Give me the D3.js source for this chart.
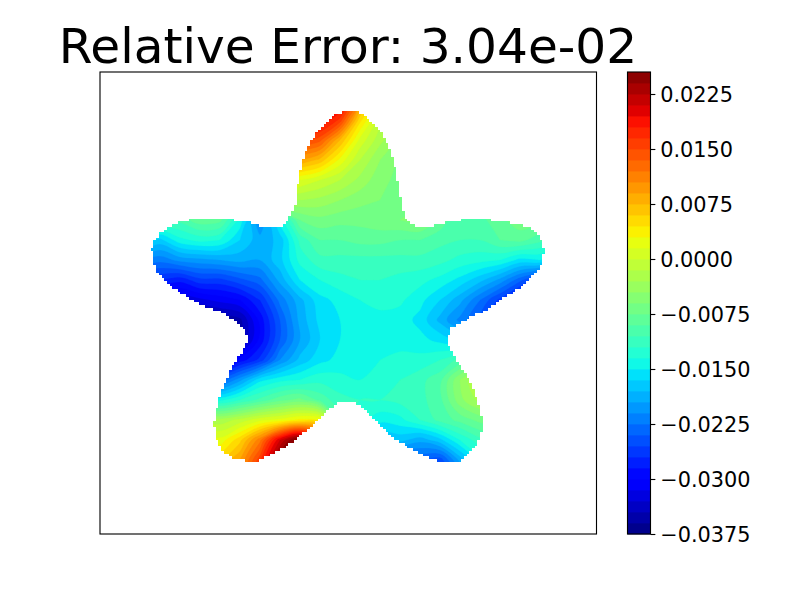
<!DOCTYPE html>
<html>
<head>
<meta charset="utf-8">
<script src="https://cdn.jsdelivr.net/npm/d3@7"></script>
<style>
html,body{margin:0;padding:0;background:#fff}
svg{display:block}
text{font-family:"DejaVu Sans",sans-serif;fill:#000}
</style>
</head>
<body>
<svg id="chart" width="800" height="600"></svg>
<script>
const titleText = "Relative Error: 3.04e-02";
// grid axes of the error field
const gridX = [140,160,180,200,220,240,260,280,300,320,340,360,380,400,420,440,460,480,500,520,540,560];
const gridY = [100,120,140,160,180,200,220,240,260,280,300,320,340,360,380,400,420,440,460,480];
// error field, in units of 1e-3
const field = [
[-5,-5,-5,-5,-5,-5,5,15,18,24,21,10,2,-3,-5,-6,-6,-6,-6,-6,-6,-6],
[-5,-5,-5,-5,-5,-5,5,17,20,20,16,5,-1,-4,-5,-6,-6,-6,-6,-6,-6,-6],
[-6,-6,-6,-6,-6,-6,5,20,16,14,7.5,1,-2.5,-5,-6,-6,-6,-6,-6,-6,-6,-6],
[-7,-7,-7,-7,-7,-7,3,12,9,7,2.5,-1.5,-4.5,-6,-6,-6,-6,-6,-6,-6,-6,-6],
[-8,-8,-8,-8,-8,-8,0,3,1.5,0,-1.5,-3.5,-5.5,-6.5,-6.5,-6.5,-6.5,-6.5,-6.5,-6.5,-6.5,-6.5],
[-9,-9,-9,-8,-7,-9,-12,-2,-3,-3.5,-4.5,-5.5,-6,-6.5,-6.5,-7,-8,-8,-7,-6,-6,-6],
[-10,-10,-10,-8,-8.5,-14,-21,-14,-7.5,-6.5,-7,-7,-6.5,-6,-5.5,-8,-10.5,-9.5,-8,-6.5,-7,-8],
[-15,-17,-14,-13,-13.5,-16.5,-19,-17.5,-11.5,-9,-9,-8.5,-8.5,-9,-9,-10,-10.5,-10.5,-9,-8.5,-10,-12],
[-21,-22,-20.5,-20,-19.5,-19,-19.5,-17,-13,-11,-11,-11,-11,-11,-11,-11.5,-12.5,-13,-13.5,-15.5,-15,-18],
[-27,-27,-28,-26,-26,-24.5,-23,-19,-15,-13.5,-12.5,-12,-12,-12.5,-13,-14,-15.5,-17.5,-20,-23.5,-27,-28],
[-33,-33,-33,-32,-31,-30,-27,-22,-18.5,-15.5,-14.5,-13.5,-12.8,-13.2,-14.5,-16.5,-19,-22.5,-26,-30,-30,-30],
[-37,-37,-37,-37,-36,-35,-29.5,-24,-19,-16,-15,-14.5,-14.2,-14.2,-15.5,-18.5,-21.5,-24,-28,-30,-30,-30],
[-37,-37,-37,-37,-37,-35,-29.5,-24,-19.5,-16.5,-15,-14.5,-14.5,-14.2,-14.5,-15.5,-17,-18,-20,-22,-22,-22],
[-34,-34,-34,-34,-33,-29.5,-26.5,-21,-17.5,-15.5,-14.5,-14.5,-13.5,-13,-13,-12,-10,-7,-6,-6,-6,-6],
[-26,-26,-26,-26,-24,-20,-15.5,-14,-13.5,-12.5,-13,-13.5,-12.5,-12,-11,-9.5,-4.5,-1,0,0,0,0],
[-12,-12,-12,-12,-14,-12,-10,-8,-7,-9.5,-11.5,-12,-12,-11.5,-11,-9.5,-5,-2.5,-2,-2,-2,-2],
[-2,-2,-2,-2,-2.5,-1,1,2,3.5,3,-10,-13,-14.5,-14,-12,-10,-8.5,-7,-6,-6,-6,-6],
[3,3,3,3,2,5.5,11.5,21,27,18,-8,-15,-18,-17.5,-19,-17,-13.5,-11,-10,-10,-10,-10],
[6,6,6,6,6,9,16,26,30,22,-8,-18,-22,-24,-24,-25,-19,-14,-12,-12,-12,-12],
[8,8,8,8,8,11,18,28,30,22,-8,-20,-24,-26,-26,-27,-22,-16,-14,-14,-14,-14]
];
// star outline
const outlineX = [347,355,362,368,375,381,386,390,394,397,400,402,405,412,420,433,447,463,490,507,520,530,537,543,544,543,537,528,517,503,487,470,463,451,448,449,453,460,467,472,477,480,482,482,477,467,457,440,423,410,393,380,370,355,345,337,325,313,298,283,270,257,237,223,215,214,215,218,223,233,245,248,243,227,215,200,187,173,158,153,152,153,160,170,178,190,210,233,248,263,278,286,290,295,297,300,305,312,320,335];
const outlineY = [111,111,114,118,125,132,142,150,163,177,193,207,217,224,227,226,222,220,220,222,225,227,234,243,250,260,273,280,290,298,310,317,322,328,340,345,355,365,375,385,398,410,418,432,445,455,463,462,455,448,438,425,415,402,401,403,414,425,438,448,455,461,460,452,435,425,415,402,388,365,348,338,327,315,310,305,297,288,273,260,250,243,233,227,223,220,220,220,222,227,227,224,217,207,190,173,153,140,128,114];
// contour levels in units of 1e-3
const levelMin = -37.5, levelStep = 1.5, levelCount = 42;
const levels = d3.range(levelCount + 1).map(i => levelMin + i * levelStep);
const cbTicks = [-37.5,-30,-22.5,-15,-7.5,0,7.5,15,22.5];
// jet colormap stops
const jetR = [[0,.35,.66,.89,1],[0,0,1,1,.5]];
const jetG = [[0,.125,.375,.64,.91,1],[0,0,1,1,0,0]];
const jetB = [[0,.11,.34,.65,1],[.5,1,1,0,0]];

const rs = d3.scaleLinear().domain(jetR[0]).range(jetR[1]);
const gs = d3.scaleLinear().domain(jetG[0]).range(jetG[1]);
const bs = d3.scaleLinear().domain(jetB[0]).range(jetB[1]);
const jet = t => d3.rgb(rs(t)*255, gs(t)*255, bs(t)*255).formatHex();
const bandColor = d3.scaleLinear().domain([levels[0], levels[levelCount]]).range([0,1]);

const frame = {l:100, r:596.5, t:72, b:534};
const svg = d3.select("#chart");
const sx = d3.scaleLinear().domain([100,596.5]).range([frame.l, frame.r]);
const sy = d3.scaleLinear().domain([72,534]).range([frame.t, frame.b]);

svg.append("text").attr("x",348).attr("y",63).attr("text-anchor","middle")
   .style("font-size","48.61px").text(titleText);

// mask on a coarse lattice gives the stepped edge of the star
const outline = outlineX.map((x,i)=>[sx(x),sy(outlineY[i])]);
const cell = 2.7;
let maskPath = "";
for (let y = sy(100); y < sy(480); y += cell) {
  for (let x = sx(140); x < sx(560); x += cell) {
    if (d3.polygonContains(outline,[x+cell/2,y+cell/2])) {
      const x0 = Math.round(x), y0 = Math.round(y);
      const x1 = Math.round(x+cell), y1 = Math.round(y+cell);
      maskPath += `M${x0},${y0}H${x1}V${y1}H${x0}Z`;
    }
  }
}
svg.append("clipPath").attr("id","star").append("path")
   .attr("shape-rendering","crispEdges").attr("d",maskPath);

const nx = gridX.length, ny = gridY.length;
const flat = field.flat().map(v => Math.max(v, levelMin));
const stepX = gridX[1]-gridX[0], stepY = gridY[1]-gridY[0];
const px = x => sx(gridX[0]+(x-0.5)*stepX), py = y => sy(gridY[0]+(y-0.5)*stepY);
const ringLine = d3.line().x(d=>px(d[0])).y(d=>py(d[1])).curve(d3.curveCatmullRomClosed.alpha(0.5));
const contours = d3.contours().size([nx,ny]).smooth(true);
const g = svg.append("g").attr("clip-path","url(#star)");
levels.slice(0,-1).forEach((lv)=>{
  const c = contours.contour(flat, lv);
  const col = jet(bandColor(lv+levelStep/2));
  const d = c.coordinates.flatMap(poly=>poly.map(ring=>ringLine(ring.slice(0,-1)))).join("");
  g.append("path").attr("d",d).attr("fill-rule","evenodd").attr("fill",col)
   .attr("stroke",col).attr("stroke-width",0.3);
});

svg.append("rect").attr("x",frame.l).attr("y",frame.t).attr("width",frame.r-frame.l).attr("height",frame.b-frame.t)
   .attr("fill","none").attr("stroke","#000").attr("stroke-width",1.11);

// colorbar
const cb = {l:627.5,r:650.5};
const cy = d3.scaleLinear().domain([levels[0],levels[levelCount]]).range([frame.b,frame.t]);
svg.append("g").selectAll("rect").data(levels.slice(0,-1)).join("rect")
   .attr("x",cb.l).attr("width",cb.r-cb.l)
   .attr("y",d=>cy(d+levelStep)).attr("height",d=>cy(d)-cy(d+levelStep)+0.4)
   .attr("fill",d=>jet(bandColor(d+levelStep/2)));
svg.append("rect").attr("x",cb.l).attr("y",frame.t).attr("width",cb.r-cb.l).attr("height",frame.b-frame.t)
   .attr("fill","none").attr("stroke","#000").attr("stroke-width",1.11);
const fmt = v => (v<0?"\u2212":"") + Math.abs(v/1000).toFixed(4);
const axis = d3.axisRight(cy).tickValues(cbTicks).tickFormat(fmt).tickSize(4.86).tickPadding(4.86);
const ag = svg.append("g").attr("transform",`translate(${cb.r},0)`).call(axis);
ag.select(".domain").remove();
ag.selectAll("line").attr("stroke","#000").attr("stroke-width",1.11);
ag.selectAll("text").style("font-size","20.83px").attr("font-family",null).attr("dy","0.36em");
</script>
</body>
</html>
